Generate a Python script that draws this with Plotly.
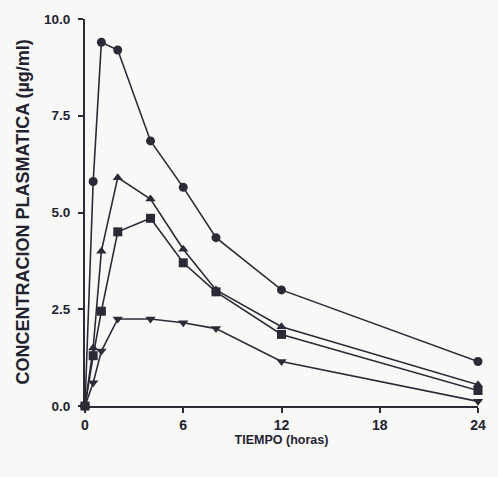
import plotly.graph_objects as go

tiempo = [0, 0.5, 1, 2, 4, 6, 8, 12, 24]
serie_circulo = [0, 5.8, 9.4, 9.2, 6.85, 5.65, 4.35, 3.0, 1.15]
serie_triangulo = [0, 1.5, 4.0, 5.9, 5.35, 4.05, 3.0, 2.05, 0.55]
serie_cuadrado = [0, 1.3, 2.45, 4.5, 4.85, 3.7, 2.95, 1.85, 0.4]
serie_triangulo_inv = [0, 0.6, 1.42, 2.25, 2.25, 2.15, 2.0, 1.15, 0.12]

x_ticks = [0, 6, 12, 18, 24]
y_ticks = [0, 2.5, 5, 7.5, 10]
y_ticklabels = ["0.0", "2.5", "5.0", "7.5", "10.0"]

ink = "#2b2b38"
fig = go.Figure()
for ys, sym in [(serie_circulo, "circle"), (serie_triangulo, "triangle-up"),
                (serie_cuadrado, "square"), (serie_triangulo_inv, "triangle-down")]:
    fig.add_trace(go.Scatter(
        x=tiempo, y=ys, mode="lines+markers",
        line=dict(color=ink, width=1.6),
        marker=dict(symbol=sym, size=9, color=ink),
        cliponaxis=False, showlegend=False))

font = dict(family="Liberation Sans, Arial, sans-serif", size=12, color="#222230")
fig.update_layout(
    width=498, height=477,
    margin=dict(l=85, r=12, t=16, b=71),
    paper_bgcolor="#f8f8f6", plot_bgcolor="#f8f8f6",
    font=font,
    xaxis=dict(range=[0, 24], tickvals=x_ticks,
               ticktext=["<b>%d</b>" % v for v in x_ticks],
               ticks="outside", ticklen=5,
               tickwidth=1.5, tickcolor=ink, showline=True, linecolor=ink,
               linewidth=2, showgrid=False, zeroline=False,
               tickfont=dict(size=14),
               title=dict(text="<b>TIEMPO (horas)</b>", standoff=3,
                          font=dict(size=12.5))),
    yaxis=dict(range=[0, 10], tickvals=y_ticks,
               ticktext=["<b>%s</b>" % t for t in y_ticklabels],
               ticks="outside", ticklen=5, tickwidth=1.5, tickcolor=ink,
               ticklabelstandoff=5,
               showline=True, linecolor=ink, linewidth=2, showgrid=False,
               zeroline=False, tickfont=dict(size=13.5)),
    annotations=[dict(text="<b>CONCENTRACION PLASMATICA (µg/ml)</b>",
                      xref="paper", yref="paper", x=0, y=0.5,
                      xanchor="center", yanchor="middle", xshift=-63,
                      textangle=-90, showarrow=False,
                      font=dict(size=18, color="#222230"))],
)
fig.write_html("out.html")
